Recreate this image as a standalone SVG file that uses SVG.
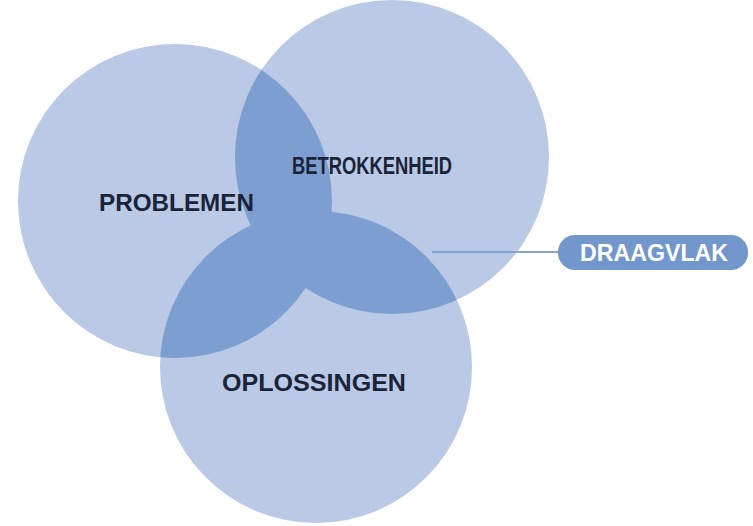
<svg xmlns="http://www.w3.org/2000/svg" width="753" height="526" viewBox="0 0 753 526">
<style>
.c{fill:#b9c9e6}
.o{fill:#7d9ed0}
.lbl{font-family:"Liberation Sans",Arial,sans-serif;font-weight:bold;font-size:23px;fill:#1b2339}
.pill{font-family:"Liberation Sans",Arial,sans-serif;font-weight:bold;font-size:23px;fill:#ffffff}
</style>
<defs>
<clipPath id="cpA"><circle cx="175" cy="201" r="157"/></clipPath>
<clipPath id="cpB"><circle cx="392" cy="157" r="157"/></clipPath>
<clipPath id="cpC"><circle cx="316" cy="367" r="156"/></clipPath>
</defs>
<rect width="753" height="526" fill="#ffffff"/>
<g id="problemen">
<circle class="c" cx="175" cy="201" r="157"/>
</g>
<g id="betrokkenheid">
<circle class="c" cx="392" cy="157" r="157"/>
</g>
<g id="oplossingen">
<circle class="c" cx="316" cy="367" r="156"/>
</g>
<g id="overlaps">
<circle class="o" cx="175" cy="201" r="157" clip-path="url(#cpB)"/>
<circle class="o" cx="175" cy="201" r="157" clip-path="url(#cpC)"/>
<circle class="o" cx="392" cy="157" r="157" clip-path="url(#cpC)"/>
</g>
<g id="labels">
<text class="lbl" x="99" y="211" textLength="155" lengthAdjust="spacingAndGlyphs">PROBLEMEN</text>
<text class="lbl" x="292" y="174" textLength="160" lengthAdjust="spacingAndGlyphs">BETROKKENHEID</text>
<text class="lbl" x="222" y="391" textLength="184" lengthAdjust="spacingAndGlyphs">OPLOSSINGEN</text>
</g>
<g id="connectors">
<line x1="432" y1="252" x2="560" y2="252" stroke="#86a3d2" stroke-width="2"/>
</g>
<g id="draagvlak">
<rect x="558" y="235" width="190" height="35" rx="17" fill="#7197cc"/>
<text class="pill" x="580" y="261" textLength="148" lengthAdjust="spacingAndGlyphs">DRAAGVLAK</text>
</g>
</svg>
